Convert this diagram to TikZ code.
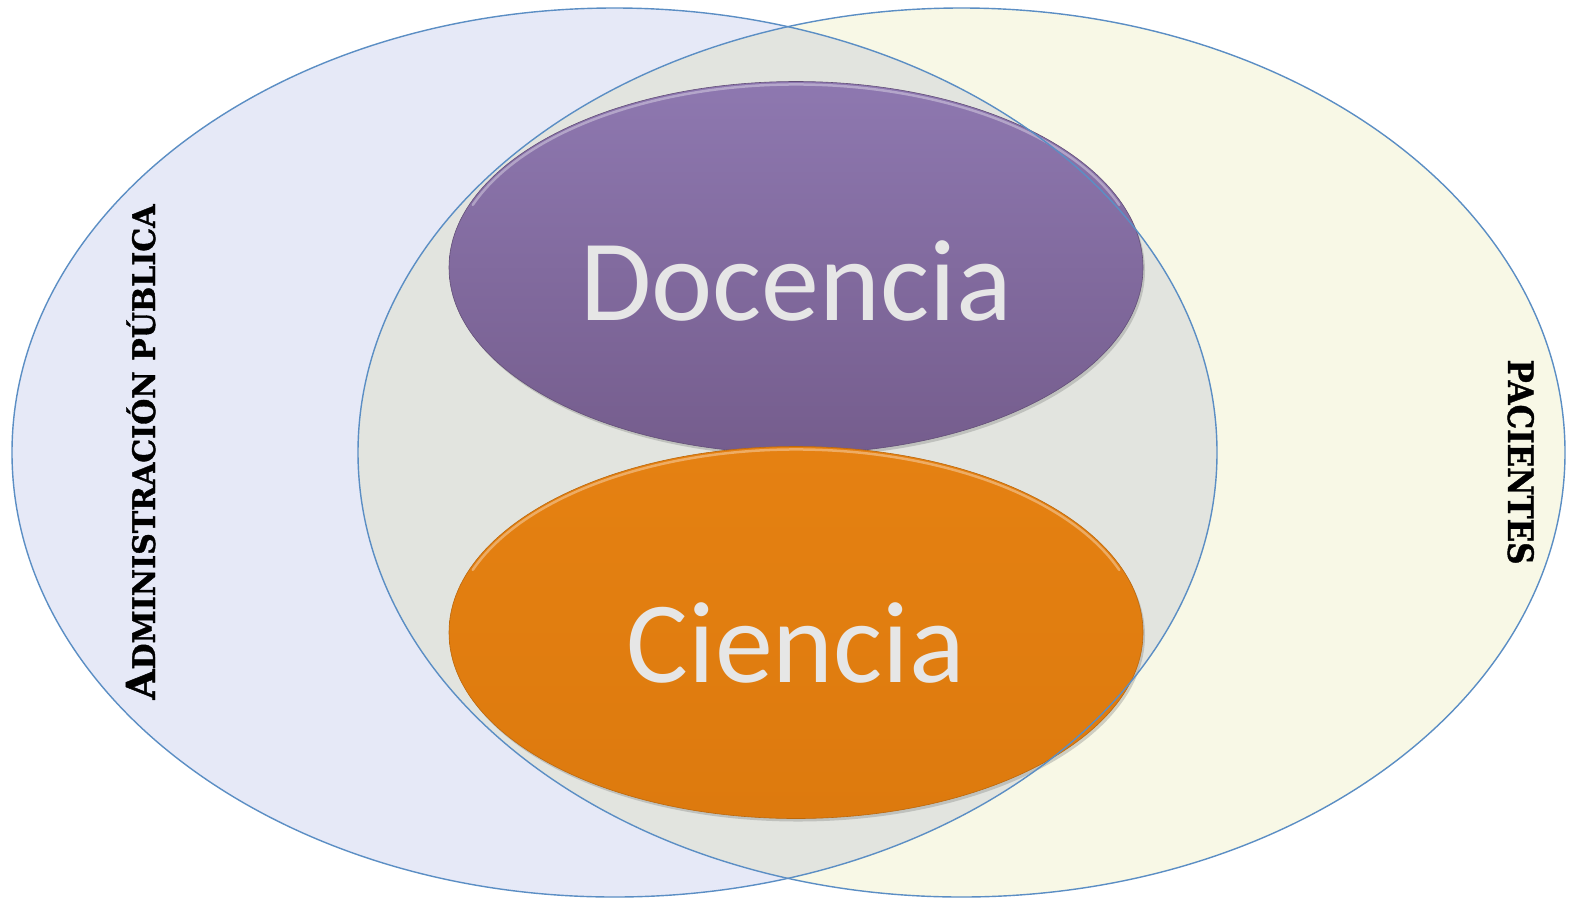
\documentclass[tikz,border=0pt]{standalone}
\usepackage{fontspec}
\usepackage{graphicx}
\setmainfont{Carlito}
\newfontfamily\labfont{DejaVu Serif Bold}[FakeBold=1.2]
\usetikzlibrary{shapes.geometric,shadows}
\definecolor{leftfill}{HTML}{E6E9F7}
\definecolor{rightfill}{HTML}{F8F8E6}
\definecolor{midfill}{HTML}{E2E4DF}
\definecolor{rimblue}{HTML}{5B8EC4}
\definecolor{purtop}{HTML}{8E78B0}
\definecolor{purbot}{HTML}{755D8D}
\definecolor{orgtop}{HTML}{E58112}
\definecolor{orgbot}{HTML}{DD7A0E}
\definecolor{txtgray}{HTML}{E6E6E6}
\tikzset{
  bigrim/.style={draw=rimblue, line width=1.4pt},
  innerell/.style={ellipse, minimum width=694pt, minimum height=372pt, inner sep=0pt,
    drop shadow={opacity=0.35, shadow xshift=2pt, shadow yshift=-3pt}},
  bevel/.style={draw=white, draw opacity=0.35, line width=2.5pt, line cap=round},
  bigtext/.style={text=txtgray, font=\fontsize{116}{116}\selectfont},
  sidelabel/.style={font=\labfont, text=black, inner sep=0pt, anchor=base}
}
\begin{document}
\begin{tikzpicture}[x=1pt,y=-1pt]
\useasboundingbox (0,0) rectangle (1573,903);
\fill[white] (0,0) rectangle (1573,903);
% big ellipses
\fill[leftfill] (614.5,452.5) ellipse [x radius=602.5pt, y radius=444.5pt];
\fill[rightfill] (961.5,452.5) ellipse [x radius=603.5pt, y radius=444.5pt];
\begin{scope}
  \clip (614.5,452.5) ellipse [x radius=602.5pt, y radius=444.5pt];
  \fill[midfill] (961.5,452.5) ellipse [x radius=603.5pt, y radius=444.5pt];
\end{scope}
% inner ellipses
\node[innerell, top color=purtop, bottom color=purbot, draw=purbot!85!black, line width=0.6pt] (doc) at (796,267.5) {};
\draw[bevel] (doc.center) ++(160:344pt and 183pt) arc [start angle=160, end angle=20, x radius=344pt, y radius=183pt];
\node[innerell, top color=orgtop, bottom color=orgbot, draw=orgbot!85!black, line width=0.6pt] (cie) at (796,632.5) {};
\draw[bevel] (cie.center) ++(160:344pt and 183pt) arc [start angle=160, end angle=20, x radius=344pt, y radius=183pt];
\node[bigtext] (doctext) at (796,281.5) {Docencia};
\node[bigtext] (cietext) at (796,643) {Ciencia};
% outlines
\node[ellipse, bigrim, minimum width=1205pt, minimum height=889pt, inner sep=0pt] (adm) at (614.5,452.5) {};
\node[ellipse, bigrim, minimum width=1207pt, minimum height=889pt, inner sep=0pt] (pac) at (961.5,452.5) {};
% side labels
\node[sidelabel, rotate=90] (admlabel) at (155,452) {\resizebox{495pt}{\height}{{\fontsize{40}{40}\selectfont A}{\fontsize{31}{31}\selectfont DMINISTRACIÓN PÚBLICA}}};
\node[sidelabel, rotate=-90] (paclabel) at (1508,462) {\resizebox{205pt}{\height}{\fontsize{35}{35}\selectfont PACIENTES}};
\end{tikzpicture}
\end{document}
